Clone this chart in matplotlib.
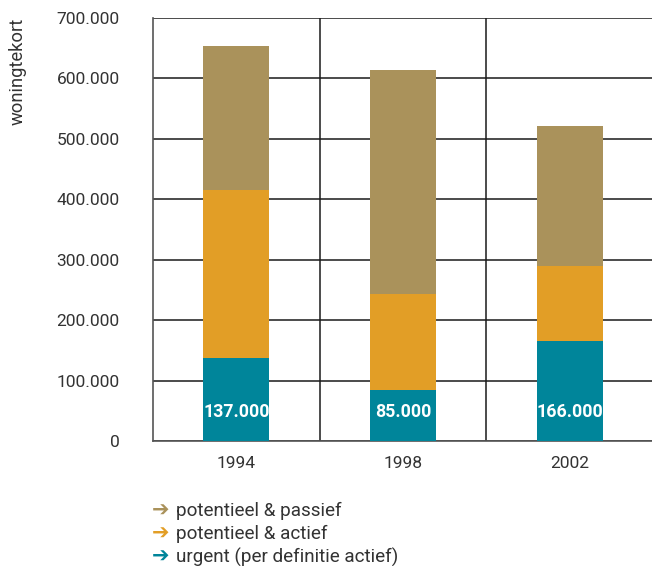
import matplotlib
matplotlib.use("Agg")
import matplotlib.pyplot as plt
import numpy as np

# Data
years = ["1994", "1998", "2002"]
urgent = [137000, 85000, 166000]
actief = [278000, 158000, 124000]
passief = [239000, 371000, 231000]
urgent_labels = ["137.000", "85.000", "166.000"]
y_ticks = [0, 100000, 200000, 300000, 400000, 500000, 600000, 700000]
y_tick_labels = ["0", "100.000", "200.000", "300.000", "400.000", "500.000", "600.000", "700.000"]
legend_labels = ["potentieel & passief", "potentieel & actief", "urgent (per definitie actief)"]

c_urgent = "#00859A"
c_actief = "#E29E26"
c_passief = "#AA925B"
txt = "#333333"

plt.rcParams["font.family"] = ["Roboto", "DejaVu Sans"]

fig = plt.figure(figsize=(6.52, 5.66), dpi=100)
ax = fig.add_axes([153 / 652, 125 / 566, 500 / 652, 423 / 566])

x = np.arange(len(years))
w = 0.395
ax.bar(x, urgent, w, color=c_urgent, zorder=3)
ax.bar(x, actief, w, bottom=urgent, color=c_actief, zorder=3)
ax.bar(x, passief, w, bottom=np.array(urgent) + np.array(actief), color=c_passief, zorder=3)

for xi, lab in zip(x, urgent_labels):
    ax.text(xi, 48000, lab, ha="center", va="center", color="white",
            fontsize=12.8, fontweight="bold", zorder=4)

ax.set_xlim(-0.5, 2.5)
ax.set_ylim(0, 700000)
ax.set_yticks(y_ticks)
ax.set_yticklabels(y_tick_labels)
ax.set_xticks(x)
ax.set_xticklabels(years)
ax.set_xticks([0.5, 1.5], minor=True)
ax.tick_params(axis="both", which="both", length=0, labelsize=12.5, colors=txt)
ax.tick_params(axis="y", pad=24)
ax.tick_params(axis="x", pad=11)
ax.grid(axis="y", which="major", color="#1a1a1a", linewidth=1.1, zorder=1)
ax.grid(axis="x", which="minor", color="#1a1a1a", linewidth=1.1, zorder=1)
ax.grid(axis="x", which="major", visible=False)

for side in ["top", "right"]:
    ax.spines[side].set_visible(False)
for side in ["left", "bottom"]:
    ax.spines[side].set_color("#555555")
    ax.spines[side].set_linewidth(1.2)

fig.text(18 / 652, 1 - 18 / 566, "woningtekort", rotation=90, ha="center", va="top",
         fontsize=13.2, color=txt)

# legend built from arrows + labels
leg_colors = [c_passief, c_actief, c_urgent]
for i, (lab, col) in enumerate(zip(legend_labels, leg_colors)):
    yy = 1 - (511 + i * 23) / 566
    fig.text(152 / 652, yy, "\u2794", color=col, fontsize=15, va="center", ha="left",
             family=["DejaVu Sans"], fontweight="bold")
    fig.text(176 / 652, yy, lab, color=txt, fontsize=13.6, va="center", ha="left")

fig.savefig("out.png", dpi=100)
